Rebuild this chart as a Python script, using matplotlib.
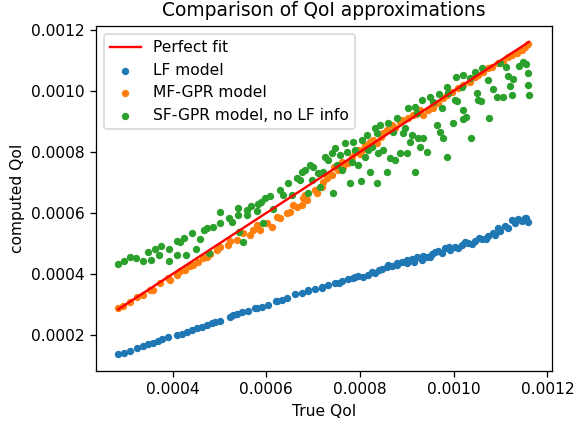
import matplotlib
matplotlib.use("Agg")
import matplotlib.pyplot as plt
import numpy as np

# All QoI values are given in units of 1e-4
UNIT = 1e-4

lf_points = [
    (2.841, 1.377), (2.969, 1.420), (3.091, 1.486), (3.234, 1.564), (3.375, 1.639),
    (3.481, 1.705), (3.588, 1.748), (3.695, 1.813), (3.767, 1.859), (3.908, 1.925),
    (4.088, 2.000), (4.194, 2.033), (4.301, 2.108), (4.408, 2.164), (4.514, 2.220),
    (4.621, 2.272), (4.728, 2.328), (4.835, 2.403), (4.900, 2.440), (5.012, 2.469),
    (5.225, 2.600), (5.300, 2.640), (5.368, 2.689), (5.475, 2.764), (5.616, 2.797),
    (5.759, 2.875), (5.800, 2.900), (5.902, 2.928), (6.043, 2.984), (6.200, 3.100),
    (6.222, 3.125), (6.329, 3.148), (6.435, 3.203), (6.613, 3.344), (6.756, 3.387),
    (6.897, 3.452), (6.900, 3.470), (7.040, 3.518), (7.183, 3.584), (7.200, 3.550),
    (7.323, 3.639), (7.466, 3.715), (7.550, 3.700), (7.609, 3.780), (7.750, 3.826),
    (7.857, 3.859), (7.900, 3.900), (7.964, 3.934), (8.071, 3.912), (8.177, 3.967),
    (8.250, 4.050), (8.320, 4.043), (8.400, 4.120), (8.463, 4.154), (8.570, 4.220),
    (8.600, 4.300), (8.677, 4.262), (8.783, 4.351), (8.800, 4.280), (8.890, 4.403),
    (8.997, 4.351), (9.000, 4.450), (9.104, 4.482), (9.150, 4.400), (9.210, 4.548),
    (9.317, 4.459), (9.350, 4.600), (9.424, 4.567), (9.500, 4.550), (9.530, 4.656),
    (9.600, 4.720), (9.672, 4.764), (9.750, 4.700), (9.814, 4.843), (9.900, 4.900),
    (9.921, 4.787), (10.028, 4.895), (10.100, 4.850), (10.171, 4.951), (10.250, 5.050),
    (10.312, 5.007), (10.400, 4.980), (10.455, 5.092), (10.550, 5.180), (10.598, 5.138),
    (10.700, 5.150), (10.739, 5.246), (10.850, 5.350), (10.882, 5.279), (10.952, 5.498),
    (11.000, 5.400), (11.095, 5.574), (11.150, 5.520), (11.238, 5.770), (11.300, 5.680),
    (11.379, 5.794), (11.450, 5.750), (11.522, 5.826), (11.550, 5.850), (11.592, 5.715),
]

mf_points = [
    (2.841, 2.875), (2.948, 2.961), (3.091, 3.092), (3.234, 3.236), (3.375, 3.311),
    (3.518, 3.475), (3.588, 3.475), (3.731, 3.715), (3.908, 3.859), (3.945, 3.803),
    (4.088, 3.967), (4.158, 4.108), (4.265, 4.131), (4.371, 4.262), (4.442, 4.295),
    (4.549, 4.403), (4.655, 4.515), (4.728, 4.567), (4.798, 4.656), (4.941, 4.787),
    (5.012, 4.895), (5.189, 4.951), (5.225, 5.092), (5.368, 5.115), (5.509, 5.334),
    (5.652, 5.279), (5.723, 5.443), (5.795, 5.607), (5.866, 5.443), (6.009, 5.662),
    (6.115, 5.551), (6.222, 5.879), (6.292, 5.826), (6.435, 5.990), (6.506, 6.043),
    (6.649, 6.207), (6.756, 6.262), (6.862, 6.426), (6.790, 6.482), (6.576, 6.262),
    (6.826, 6.590), (7.040, 6.754), (7.076, 6.646), (7.183, 6.862), (7.217, 7.026),
    (7.289, 7.138), (7.300, 7.200), (7.396, 7.246), (7.450, 7.500), (7.537, 7.410),
    (7.609, 7.682), (7.644, 7.518), (7.750, 7.630), (7.823, 7.846), (7.893, 8.010),
    (7.950, 8.050), (8.000, 7.950), (8.036, 8.066), (8.107, 8.230), (8.213, 8.338),
    (8.284, 8.393), (8.357, 8.285), (8.450, 8.500), (8.497, 8.613), (8.570, 8.721),
    (8.677, 8.885), (8.750, 8.800), (8.854, 8.994), (8.900, 9.050), (9.031, 9.105),
    (9.138, 9.213), (9.200, 9.250), (9.281, 9.377), (9.351, 9.213), (9.458, 9.377),
    (9.565, 9.433), (9.672, 9.596), (9.778, 9.761), (9.851, 9.869), (9.957, 9.977),
    (10.098, 10.089), (10.205, 10.197), (10.348, 10.305), (10.455, 10.469),
    (10.525, 10.525), (10.632, 10.633), (10.739, 10.744), (10.811, 10.799),
    (10.952, 10.908), (11.059, 10.961), (11.166, 11.125), (11.238, 11.180),
    (11.345, 11.236), (11.452, 11.344), (11.522, 11.432), (11.592, 11.541),
]

sf_points = [
    (2.841, 4.328), (2.963, 4.436), (3.091, 4.567), (3.219, 4.515), (3.375, 4.426),
    (3.481, 4.731), (3.545, 4.459), (3.624, 4.810), (3.746, 4.928), (3.716, 4.623),
    (3.930, 4.830), (3.930, 4.436), (4.088, 5.092), (4.158, 5.039), (4.243, 5.170),
    (4.100, 4.623), (4.286, 4.623), (4.408, 5.334), (4.499, 4.820), (4.585, 5.148),
    (4.677, 5.443), (4.728, 5.498), (4.777, 4.698), (4.856, 5.531), (5.012, 5.682),
    (5.012, 6.043), (5.204, 5.826), (5.261, 5.715), (5.390, 6.174), (5.390, 5.934),
    (5.424, 5.387), (5.496, 5.059), (5.582, 6.098), (5.582, 5.934), (5.673, 6.239),
    (5.795, 6.075), (5.829, 6.285), (5.880, 6.371), (5.936, 5.662), (5.979, 6.482),
    (6.079, 6.557), (6.149, 6.121), (6.292, 6.754), (6.363, 6.590), (6.470, 6.993),
    (6.542, 6.590), (6.719, 7.082), (6.884, 6.646),
    (6.649, 7.138), (6.756, 7.354), (6.826, 7.410), (6.933, 7.574), (7.003, 7.518),
    (6.969, 7.082), (7.110, 7.302), (7.146, 6.862), (7.217, 7.354), (7.253, 7.846),
    (7.323, 7.738), (7.396, 7.957), (7.417, 6.646), (7.466, 8.121), (7.503, 7.574),
    (7.573, 7.902), (7.609, 7.410), (7.680, 8.285), (7.716, 8.010), (7.787, 6.974),
    (7.823, 7.682), (7.857, 8.338), (7.893, 8.066), (7.964, 7.574), (8.015, 7.059),
    (8.036, 8.393), (8.107, 7.846), (8.143, 8.557), (8.177, 8.066), (8.213, 7.354),
    (8.250, 8.174), (8.369, 6.974), (8.320, 8.777), (8.369, 8.613), (8.391, 7.957),
    (8.427, 8.885), (8.497, 8.066), (8.570, 7.354), (8.604, 8.941), (8.640, 7.793),
    (8.711, 8.666), (8.747, 7.738), (8.783, 9.105), (8.854, 7.957), (8.924, 8.613),
    (8.961, 8.777), (8.997, 7.957), (9.031, 9.433), (9.067, 8.338), (9.104, 8.557),
    (9.174, 9.485), (9.174, 7.354), (9.210, 9.269), (9.245, 8.449), (9.281, 8.174),
    (9.317, 9.705), (9.351, 8.449), (9.424, 8.010), (9.494, 9.813), (9.565, 9.650),
    (9.637, 8.885), (9.708, 8.666), (9.778, 8.449), (9.851, 7.846), (9.885, 9.925),
    (9.992, 8.941), (9.744, 9.433),
    (10.049, 10.469), (10.205, 10.525), (10.348, 10.416), (10.455, 10.633),
    (10.598, 10.744), (10.739, 10.361), (10.845, 10.056), (10.918, 9.813),
    (11.059, 9.813), (11.117, 10.799), (11.166, 10.492), (11.259, 10.383),
    (11.202, 10.164), (11.238, 9.869), (11.400, 10.820), (11.486, 10.961),
    (11.543, 10.885), (11.592, 10.580), (11.592, 10.197), (11.607, 9.869),
    (10.760, 9.105), (10.363, 8.449), (10.263, 9.138), (10.192, 9.072),
    (10.192, 9.377), (10.504, 9.925), (10.525, 9.705), (10.576, 9.682),
    (10.077, 9.682), (10.030, 9.705), (9.851, 10.142), (9.693, 9.902),
    (10.176, 10.142), (10.990, 10.930),
]

perfect_range = [2.841, 11.607]

lf = np.array(lf_points) * UNIT
mf = np.array(mf_points) * UNIT
sf = np.array(sf_points) * UNIT
pr = np.array(perfect_range) * UNIT

DPI = 115
fig = plt.figure(figsize=(587 / DPI, 424 / DPI), dpi=DPI)
ax = fig.add_axes([96 / 587, 53 / 424, 456 / 587, 345 / 424])

ms = 13
fs = 9.7
ax.plot(pr, pr, color="red", lw=1.5, label="Perfect fit")
ax.scatter(lf[:, 0], lf[:, 1], s=ms, color="#1f77b4", label="LF model")
ax.scatter(mf[:, 0], mf[:, 1], s=ms, color="#ff7f0e", label="MF-GPR model")
ax.scatter(sf[:, 0], sf[:, 1], s=ms, color="#2ca02c", label="SF-GPR model, no LF info")

ax.set_xlim(0.0002365, 0.00121)
ax.set_ylim(0.000082, 0.001213)
ax.set_xticks([0.0004, 0.0006, 0.0008, 0.0010, 0.0012])
ax.set_yticks([0.0002, 0.0004, 0.0006, 0.0008, 0.0010, 0.0012])
ax.set_xticklabels(["0.0004", "0.0006", "0.0008", "0.0010", "0.0012"])
ax.set_yticklabels(["0.0002", "0.0004", "0.0006", "0.0008", "0.0010", "0.0012"])
ax.tick_params(labelsize=fs)

ax.set_title("Comparison of QoI approximations", fontsize=11.7)
ax.set_xlabel("True QoI", fontsize=fs)
ax.set_ylabel("computed QoI", fontsize=fs)
ax.legend(loc="upper left", fontsize=fs)

fig.savefig("out.png", dpi=DPI)
